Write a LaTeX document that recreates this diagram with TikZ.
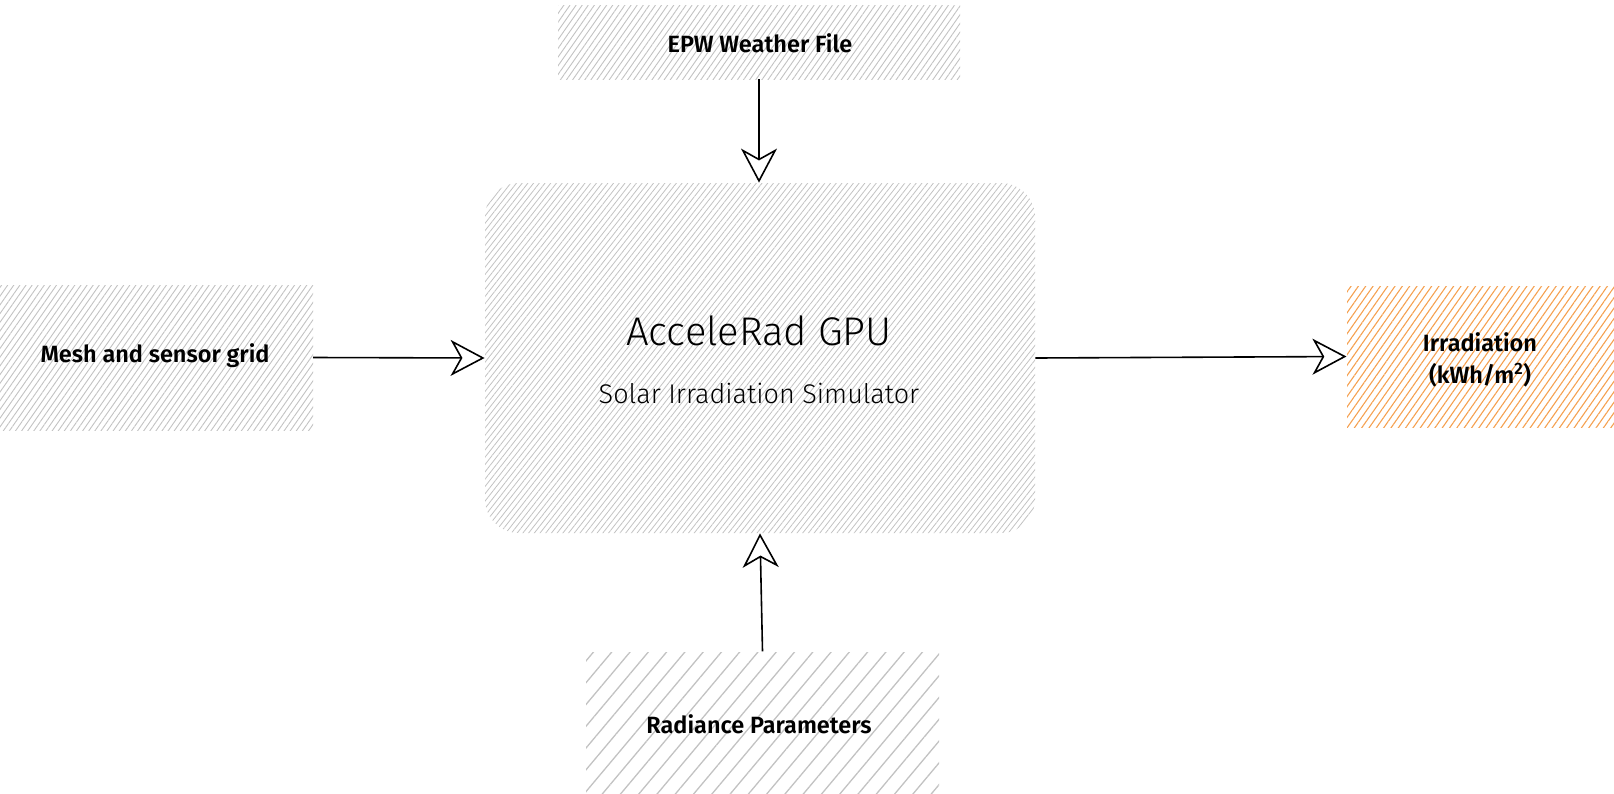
\documentclass[tikz,border=0pt]{standalone}
\usepackage{fontspec}
\setmainfont{Fira Sans}[BoldFont=* SemiBold]
\newfontfamily\lightfont{Fira Sans}[UprightFont=* Light]
\usetikzlibrary{arrows.meta,patterns.meta}
\definecolor{hatch}{HTML}{C2C2C2}
\definecolor{orangehatch}{HTML}{F5A04F}
\tikzset{
  hbox/.style={inner sep=0pt, pattern={Lines[angle=55,distance=5pt,line width=0.9pt]}, pattern color=hatch},
  widehatch/.style={inner sep=0pt, pattern={Lines[angle=50,distance=14pt,line width=1.3pt]}, pattern color=hatch},
  orangebox/.style={inner sep=0pt, pattern={Lines[angle=55,distance=6pt,line width=1.1pt]}, pattern color=orangehatch},
  mainbox/.style={inner sep=0pt, rounded corners=34pt, pattern={Lines[angle=52,distance=4.5pt,line width=0.8pt]}, pattern color=hatch},
  lbl/.style={font=\fontsize{23.5}{29}\selectfont\bfseries, text=black},
  conn/.style={line width=1.6pt, -{Stealth[length=34pt,width=36pt,inset=10pt,open,line width=1.6pt]}},
}
\begin{document}
\begin{tikzpicture}[x=1pt,y=-1pt]
\useasboundingbox (0,0) rectangle (1614,793);
% boxes
\node[mainbox, minimum width=550pt, minimum height=350pt] (main) at (760,358) {};
\node[hbox, minimum width=402pt, minimum height=74pt] (epw) at (759,42) {};
\node[hbox, minimum width=313pt, minimum height=145pt] (mesh) at (156.5,357.5) {};
\node[orangebox, minimum width=267pt, minimum height=141pt] (irr) at (1480.5,356.5) {};
\node[widehatch, minimum width=353pt, minimum height=141pt] (rad) at (762.5,722.5) {};
% texts
\node[lbl] (epwtext) at (760,43) {EPW Weather File};
\node[lbl] (meshtext) at (155,356) {Mesh and sensor grid};
\node[lbl] (radtext) at (759,724) {Radiance Parameters};
\node[lbl, align=center] (irrtext) at (1480,360) {Irradiation\\[3pt](kWh/m\textsuperscript{2})};
\node[font=\lightfont\fontsize{40}{46}\selectfont] (title) at (759,331) {AcceleRad GPU};
\node[font=\lightfont\fontsize{27}{32}\selectfont] (subtitle) at (759,393) {Solar Irradiation Simulator};
% connectors
\draw[conn] (epw.south) -- (epw.south |- main.north);
\draw[conn] (mesh.east) -- (main.west);
\draw[conn] (main.east) -- (irr.west);
\draw[conn] (rad.north) -- (main.south);
\end{tikzpicture}
\end{document}
